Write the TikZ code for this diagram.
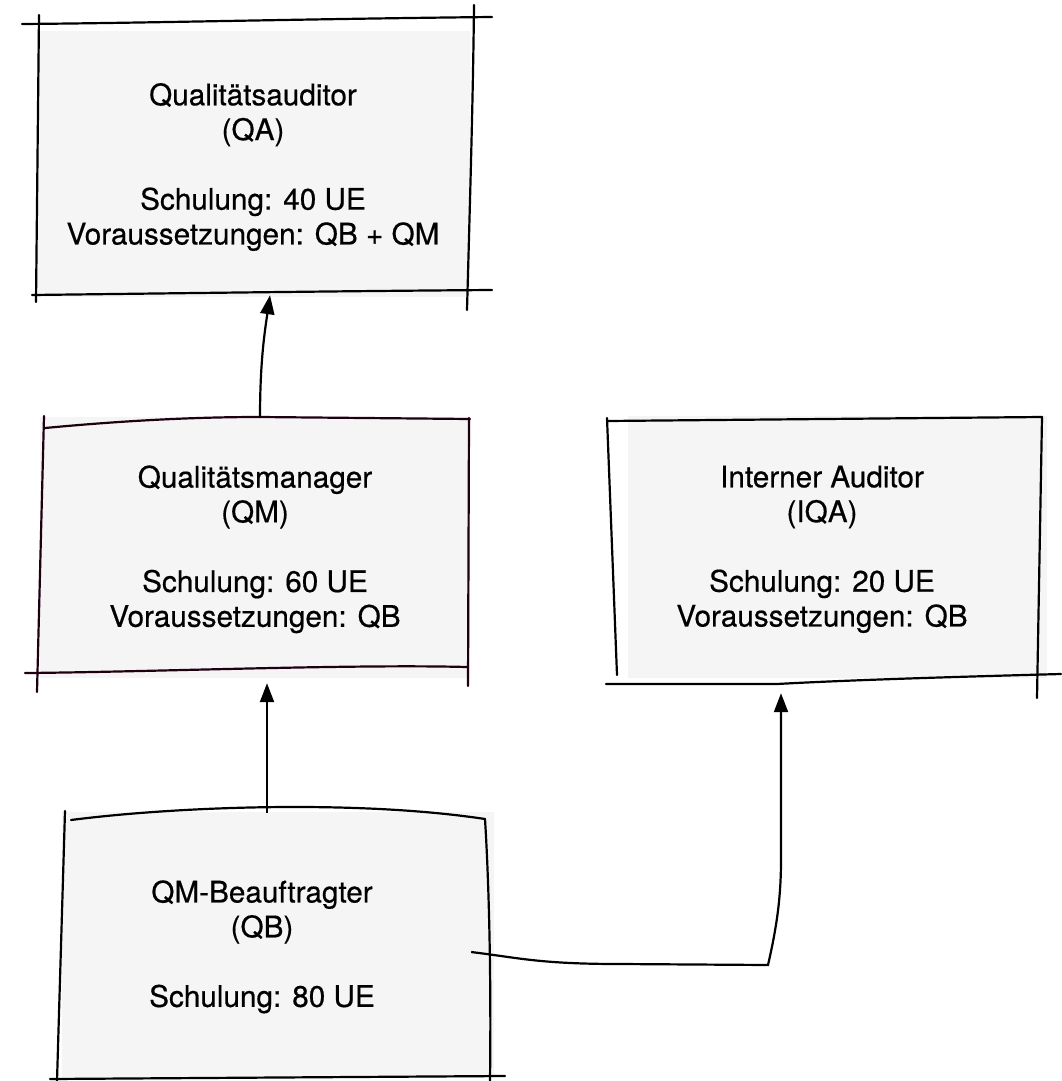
\documentclass[tikz,border=0pt]{standalone}
\usepackage{fontspec}
\setmainfont{TeX Gyre Heros}[FakeBold=0.5]
\usetikzlibrary{arrows.meta,calc}
\definecolor{boxfill}{HTML}{F5F5F5}
\definecolor{qmline}{HTML}{1F0010}
\begin{document}
\begin{tikzpicture}[x=1pt,y=-1pt,
  boxbg/.style={rectangle, fill=boxfill, draw=none, inner sep=0pt},
  txt/.style={align=center, inner sep=0pt, font=\fontsize{29.7}{34.8}\selectfont, text=black},
  sketch/.style={line width=2.2pt, line cap=round, line join=round},
  conn/.style={line width=2.2pt, -{Triangle[length=19pt,width=14pt]}}]
\fill[white] (0,0) rectangle (1061,1081);
\useasboundingbox (0,0) rectangle (1061,1081);

% box fills
\node[boxbg, minimum width=433pt, minimum height=266pt] (qaBox) at (253.5,164) {};
\node[boxbg, minimum width=430pt, minimum height=261pt] (qmBox) at (255,547.5) {};
\node[boxbg, minimum width=419pt, minimum height=262pt] (iqaBox) at (837.5,547) {};
\node[boxbg, minimum width=432pt, minimum height=266pt] (qbBox) at (278,945) {};

% QA sketch outline
\draw[sketch] (22,24) .. controls (150,23) and (300,19) .. (492,17);
\draw[sketch] (39,15) -- (36,302);
\draw[sketch] (474,5) .. controls (473,100) and (470,200) .. (467,310);
\draw[sketch] (32,295) .. controls (200,293) and (350,291) .. (492,290);

% QM sketch outline
\draw[sketch,qmline] (45,428) .. controls (130,420) and (200,417) .. (260,417) -- (470,419);
\draw[sketch,qmline] (44,416) -- (37,692);
\draw[sketch,qmline] (469,418) -- (468,686);
\draw[sketch,qmline] (25,673) .. controls (150,672) and (350,664) .. (467,667);

% IQA sketch outline
\draw[sketch] (607,421) -- (1042,417);
\draw[sketch] (607,418) -- (617,675);
\draw[sketch] (1042,417) -- (1037,698);
\draw[sketch] (606,684) -- (777,684) .. controls (850,680) and (950,677) .. (1061,674);

% QB sketch outline
\draw[sketch] (71,820) .. controls (180,806) and (360,800) .. (485,819);
\draw[sketch] (65,811) -- (57,1081);
\draw[sketch] (485,819) .. controls (490,900) and (491,1000) .. (490,1081);
\draw[sketch] (50,1079) -- (505,1076);

% texts
\node[txt] (qa) at (253,167) {Qualitätsauditor\\(QA)\\[34.8pt]Schulung: 40 UE\\Voraussetzungen: QB + QM};
\node[txt] (qm) at (255,549.3) {Qualitätsmanager\\(QM)\\[34.8pt]Schulung: 60 UE\\Voraussetzungen: QB};
\node[txt] (iqa) at (822,549.3) {Interner Auditor\\(IQA)\\[34.8pt]Schulung: 20 UE\\Voraussetzungen: QB};
\node[txt] (qb) at (262,946.8) {QM-Beauftragter\\(QB)\\[34.8pt]Schulung: 80 UE};

% connectors
\draw[conn] ($(qmBox.north)+(5,1)$) .. controls +(0,-58) and +(-5,35) .. ($(qaBox.south)+(16.5,-2)$);
\draw[conn] ($(qbBox.north)+(-11,1)$) -- ($(qmBox.south)+(12,5)$);
\draw[conn] ($(qbBox.east)+(-23,7)$) .. controls (520,958) and (540,964) .. (620,964) -- (768,965)
  .. controls (776,930) and (781,900) .. (781,860) -- ($(iqaBox.south)+(-56.5,15)$);
\end{tikzpicture}
\end{document}
